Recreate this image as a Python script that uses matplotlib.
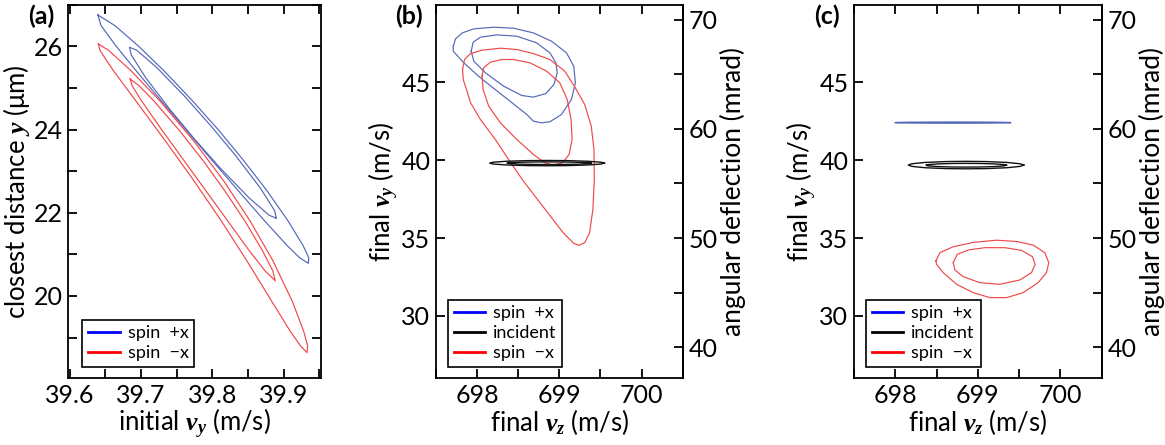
import matplotlib
matplotlib.use('Agg')
import matplotlib.pyplot as plt
from matplotlib.ticker import MultipleLocator, FixedLocator
import numpy as np

plt.rcParams['font.family'] = ['Lato', 'DejaVu Sans']
plt.rcParams['mathtext.fontset'] = 'custom'
plt.rcParams['mathtext.it'] = 'Liberation Serif:bold:italic'
plt.rcParams['mathtext.rm'] = 'Liberation Serif'
plt.rcParams['mathtext.bf'] = 'Liberation Serif:bold'

# ---------------- data: panel (a) contours (initial vy, closest distance y) ----------------
a_plus_outer_x = [39.6394, 39.6634, 39.6957, 39.7320, 39.7720, 39.8095, 39.8442, 39.8767,
                  39.9061, 39.9275, 39.9353, 39.9346, 39.9227, 39.9053, 39.8733, 39.8365,
                  39.8001, 39.7642, 39.7282, 39.6930, 39.6645, 39.6440]
a_plus_outer_y = [26.755, 26.497, 26.016, 25.415, 24.693, 23.971, 23.249, 22.527,
                  21.805, 21.204, 20.915, 20.783, 20.915, 21.204, 21.805, 22.527,
                  23.249, 23.971, 24.693, 25.415, 26.016, 26.497]
a_plus_inner_x = [39.8897, 39.8874, 39.8676, 39.8326, 39.7980, 39.7622, 39.7220, 39.6938,
                  39.6838, 39.6862, 39.7060, 39.7410, 39.7756, 39.8114, 39.8516, 39.8798]
a_plus_inner_y = [21.870, 22.049, 22.587, 23.375, 24.087, 24.779, 25.490, 25.909,
                  25.976, 25.797, 25.259, 24.471, 23.759, 23.067, 22.356, 21.937]
a_minus_outer_x = [39.6402, 39.6550, 39.6858, 39.7261, 39.7737, 39.8159, 39.8529, 39.8851,
                   39.9119, 39.9280, 39.9337, 39.9328, 39.9238, 39.9090, 39.8830, 39.8485,
                   39.8125, 39.7742, 39.7340, 39.6925, 39.6612, 39.6425]
a_minus_outer_y = [26.057, 25.896, 25.415, 24.693, 23.730, 22.768, 21.805, 20.843,
                   19.880, 19.158, 18.797, 18.636, 18.797, 19.158, 19.880, 20.843,
                   21.805, 22.768, 23.730, 24.693, 25.415, 25.896]
a_minus_inner_x = [39.6847, 39.6972, 39.7177, 39.7541, 39.7872, 39.8175, 39.8455, 39.8705,
                   39.8848, 39.8883, 39.8740, 39.8520, 39.8215, 39.7910, 39.7605, 39.7300,
                   39.7005, 39.6875]
a_minus_inner_y = [25.215, 25.054, 24.693, 23.971, 23.249, 22.527, 21.805, 21.083,
                   20.602, 20.362, 20.602, 21.083, 21.805, 22.527, 23.249, 23.971,
                   24.693, 25.054]

# ---------------- data: panel (b) contours (final vz, final vy) ----------------
b_plus_outer_x = [697.710, 697.738, 697.819, 697.960, 698.201, 698.443, 698.684, 698.905,
                  699.087, 699.175, 699.195, 699.147, 699.026, 698.885, 698.785, 698.684,
                  698.604, 698.322, 698.040, 697.839, 697.710]
b_plus_outer_y = [47.308, 47.778, 48.162, 48.419, 48.526, 48.462, 48.162, 47.628,
                  46.880, 46.026, 44.957, 43.889, 42.927, 42.457, 42.393, 42.500,
                  42.927, 44.103, 45.278, 46.239, 46.987]
b_plus_inner_x = [697.928, 697.952, 698.040, 698.241, 698.483, 698.724, 698.885, 698.958,
                  698.974, 698.934, 698.837, 698.684, 698.543, 698.322, 698.101, 697.960]
b_plus_inner_y = [46.987, 47.564, 47.885, 48.034, 47.949, 47.521, 46.880, 46.239,
                  45.598, 44.850, 44.274, 44.038, 44.145, 44.744, 45.598, 46.346]
b_minus_outer_x = [697.823, 697.847, 697.920, 698.060, 698.282, 698.483, 698.684, 698.885,
                   699.066, 699.187, 699.308, 699.388, 699.421, 699.425, 699.408, 699.368,
                   699.308, 699.239, 699.175, 699.046, 698.765, 698.563, 698.423, 698.221,
                   698.040, 697.920, 697.871, 697.831]
b_minus_outer_y = [45.812, 46.453, 46.838, 47.051, 47.179, 47.094, 46.838, 46.453,
                   45.705, 44.701, 43.568, 42.179, 40.684, 38.761, 36.838, 35.342,
                   34.701, 34.530, 34.658, 35.342, 37.265, 38.654, 39.722, 41.325,
                   42.607, 43.675, 44.530, 45.171]
b_minus_inner_x = [698.060, 698.080, 698.161, 698.302, 698.443, 698.644, 698.845, 699.006,
                   699.095, 699.143, 699.155, 699.119, 699.038, 698.926, 698.825, 698.684,
                   698.483, 698.282, 698.141, 698.072]
b_minus_inner_y = [45.385, 45.919, 46.282, 46.453, 46.453, 46.239, 45.705, 44.957,
                   43.889, 42.607, 41.325, 40.363, 39.829, 39.679, 39.829, 40.363,
                   41.325, 42.393, 43.462, 44.530]
b_inc_outer_x = [699.549, 699.507, 699.345, 699.090, 698.851, 698.612, 698.358, 698.195,
                 698.153, 698.195, 698.358, 698.612, 698.851, 699.090, 699.345, 699.507]
b_inc_outer_y = [39.806, 39.864, 39.926, 39.966, 39.976, 39.966, 39.926, 39.864,
                 39.806, 39.748, 39.686, 39.646, 39.636, 39.646, 39.686, 39.748]
b_inc_inner_x = [699.389, 699.358, 699.239, 699.051, 698.876, 698.701, 698.513, 698.394,
                 698.363, 698.394, 698.513, 698.701, 698.876, 699.051, 699.239, 699.358]
b_inc_inner_y = [39.800, 39.829, 39.860, 39.880, 39.885, 39.880, 39.860, 39.829,
                 39.800, 39.771, 39.740, 39.720, 39.715, 39.720, 39.740, 39.771]

# ---------------- data: panel (c) contours (final vz, final vy) ----------------
c_plus_x = [699.395, 699.353, 699.190, 698.935, 698.696, 698.457, 698.202, 698.039,
            697.997, 698.039, 698.202, 698.457, 698.696, 698.935, 699.190, 699.353]
c_plus_y = [42.405, 42.417, 42.430, 42.438, 42.440, 42.438, 42.430, 42.417,
            42.405, 42.393, 42.380, 42.372, 42.370, 42.372, 42.380, 42.393]
c_inc_outer_x = [699.557, 699.515, 699.352, 699.096, 698.857, 698.618, 698.362, 698.199,
                 698.157, 698.199, 698.362, 698.618, 698.857, 699.096, 699.352, 699.515]
c_inc_outer_y = [39.680, 39.762, 39.850, 39.906, 39.920, 39.906, 39.850, 39.762,
                 39.680, 39.598, 39.510, 39.454, 39.440, 39.454, 39.510, 39.598]
c_inc_inner_x = [699.347, 699.318, 699.204, 699.026, 698.859, 698.692, 698.514, 698.400,
                 698.371, 698.400, 698.514, 698.692, 698.859, 699.026, 699.204, 699.318]
c_inc_inner_y = [39.670, 39.711, 39.755, 39.783, 39.790, 39.783, 39.755, 39.711,
                 39.670, 39.629, 39.585, 39.557, 39.550, 39.557, 39.585, 39.629]
c_minus_outer_x = [698.492, 698.540, 698.702, 698.944, 699.226, 699.468, 699.669, 699.811,
                   699.859, 699.831, 699.730, 699.548, 699.347, 699.145, 698.944, 698.742,
                   698.581, 698.500]
c_minus_outer_y = [33.526, 34.060, 34.440, 34.720, 34.860, 34.780, 34.550, 34.060,
                   33.419, 32.778, 32.137, 31.496, 31.176, 31.176, 31.496, 32.030,
                   32.778, 33.312]
c_minus_inner_x = [698.702, 698.750, 698.883, 699.085, 699.327, 699.528, 699.661, 699.694,
                   699.649, 699.508, 699.266, 699.024, 698.823, 698.722]
c_minus_inner_y = [33.419, 33.953, 34.231, 34.381, 34.381, 34.210, 33.804, 33.312,
                   32.778, 32.308, 32.030, 32.137, 32.522, 32.949]

# reference longitudinal velocity for the angular-deflection axis (m/s)
vz_ref = 700.0
mrad_major = [40, 50, 60, 70]
mrad_minor = [45, 55, 65]

# labels
legend_plus = 'spin  +x'
legend_minus = 'spin  \u2212x'
legend_inc = 'incident'

# ---------------- style ----------------
blue_c = '#5467b9'
red_c = '#f04848'
black_c = '#111111'
lw_c = 0.85
tick_fs = 18
label_fs = 18.5
right_label_fs = 19
leg_fs = 13
spine_lw = 1.3
tick_len = 6.5

W, H = 1165, 445
fig = plt.figure(figsize=(W / 100, H / 100), dpi=100)


def ax_rect(l, r, t, b):
    return [l / W, 1 - b / H, (r - l) / W, (b - t) / H]


def closed(xs, ys):
    return np.append(xs, xs[0]), np.append(ys, ys[0])


def style(ax):
    for s in ax.spines.values():
        s.set_linewidth(spine_lw)
    ax.tick_params(which='both', direction='in', length=tick_len, width=spine_lw,
                   labelsize=tick_fs, pad=4)


def legend(ax, handles, labels, x0):
    leg = ax.legend(handles, labels, loc='lower left', bbox_to_anchor=(x0, 0.03),
                    borderaxespad=0, fontsize=leg_fs, frameon=True, fancybox=False,
                    edgecolor='black', framealpha=1, handlelength=1.75,
                    handletextpad=0.45, labelspacing=0.22, borderpad=0.32)
    leg.get_frame().set_linewidth(1.2)
    return leg


# ---------------- panel (a) ----------------
axa = fig.add_axes(ax_rect(68.3, 320.7, 4.7, 378.3))
style(axa)
for xs, ys, col in [(a_plus_outer_x, a_plus_outer_y, blue_c),
                    (a_plus_inner_x, a_plus_inner_y, blue_c),
                    (a_minus_outer_x, a_minus_outer_y, red_c),
                    (a_minus_inner_x, a_minus_inner_y, red_c)]:
    cx, cy = closed(xs, ys)
    axa.plot(cx, cy, color=col, lw=lw_c)
axa.set_xlim(39.598, 39.952)
axa.set_ylim(18.02, 27.0)
axa.xaxis.set_major_locator(MultipleLocator(0.1))
axa.xaxis.set_minor_locator(MultipleLocator(0.05))
axa.yaxis.set_major_locator(MultipleLocator(2))
axa.yaxis.set_minor_locator(MultipleLocator(1))
axa.tick_params(which='both', top=True, right=True)
axa.set_xlabel('initial $v_y$ (m/s)', fontsize=label_fs, labelpad=0)
axa.set_ylabel('closest distance $y$ (\u03bcm)', fontsize=label_fs, labelpad=1)
h1, = axa.plot([], [], color='#0000ff', lw=2)
h2, = axa.plot([], [], color='#ff0000', lw=2)
legend(axa, [h1, h2], [legend_plus, legend_minus], 0.055)
axa.text(-0.107, 0.968, '(a)', transform=axa.transAxes, fontsize=18, fontweight='bold',
         ha='center', va='center')


def vz_panel(ax, curves, letter):
    style(ax)
    for xs, ys, col, lw in curves:
        cx, cy = closed(xs, ys)
        ax.plot(cx, cy, color=col, lw=lw)
    ax.set_xlim(697.5, 700.5)
    ax.set_ylim(26, 49.97)
    ax.xaxis.set_major_locator(MultipleLocator(1))
    ax.xaxis.set_minor_locator(MultipleLocator(0.5))
    ax.yaxis.set_major_locator(FixedLocator([30, 35, 40, 45]))
    ax.tick_params(which='both', top=True, right=False)
    ax.set_xlabel('final $v_z$ (m/s)', fontsize=label_fs, labelpad=0)
    ax.set_ylabel('final $v_y$ (m/s)', fontsize=label_fs, labelpad=0)
    sec = ax.secondary_yaxis('right', functions=(lambda v: v * 1000.0 / vz_ref,
                                                  lambda m: m * vz_ref / 1000.0))
    sec.yaxis.set_major_locator(FixedLocator(mrad_major))
    sec.yaxis.set_minor_locator(FixedLocator(mrad_minor))
    sec.tick_params(which='both', direction='in', length=tick_len, width=spine_lw,
                    labelsize=tick_fs, pad=4)
    for s in sec.spines.values():
        s.set_linewidth(spine_lw)
    sec.set_ylabel('angular deflection (mrad)', fontsize=right_label_fs, labelpad=2)
    hb, = ax.plot([], [], color='#0000ff', lw=2)
    hk, = ax.plot([], [], color='black', lw=2)
    hr, = ax.plot([], [], color='#ff0000', lw=2)
    legend(ax, [hb, hk, hr], [legend_plus, legend_inc, legend_minus], 0.048)
    ax.text(-0.11, 0.968, letter, transform=ax.transAxes, fontsize=18, fontweight='bold',
            ha='center', va='center')


# ---------------- panel (b) ----------------
axb = fig.add_axes(ax_rect(436.0, 682.7, 4.7, 378.3))
vz_panel(axb, [(b_plus_outer_x, b_plus_outer_y, blue_c, lw_c),
               (b_plus_inner_x, b_plus_inner_y, blue_c, lw_c),
               (b_minus_outer_x, b_minus_outer_y, red_c, lw_c),
               (b_minus_inner_x, b_minus_inner_y, red_c, lw_c),
               (b_inc_outer_x, b_inc_outer_y, black_c, 1.0),
               (b_inc_inner_x, b_inc_inner_y, black_c, 1.0)], '(b)')

# ---------------- panel (c) ----------------
axc = fig.add_axes(ax_rect(854.0, 1101.7, 4.7, 378.3))
vz_panel(axc, [(c_plus_x, c_plus_y, blue_c, 1.0),
               (c_inc_outer_x, c_inc_outer_y, black_c, 1.0),
               (c_inc_inner_x, c_inc_inner_y, black_c, 1.0),
               (c_minus_outer_x, c_minus_outer_y, red_c, lw_c),
               (c_minus_inner_x, c_minus_inner_y, red_c, lw_c)], '(c)')

fig.savefig('out.png', dpi=100)
